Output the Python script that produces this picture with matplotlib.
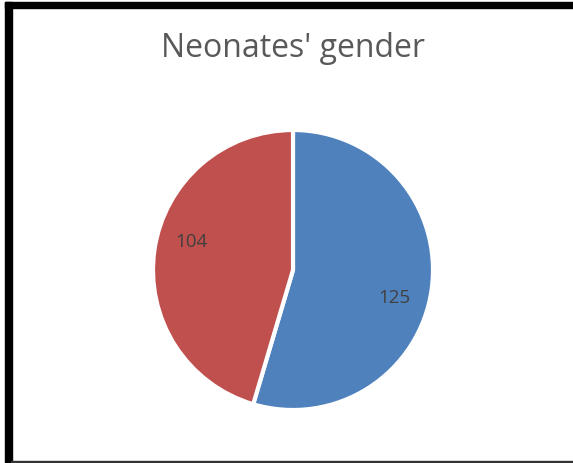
import numpy as np
import matplotlib.pyplot as plt
from matplotlib.patches import Rectangle

# Data
labels = ['Male', 'Female']
counts = [125, 104]
colors = ['#4F81BD', '#C0504D']

W, H = 573, 463
cx, cy, R = 293, H - 270, 140

fig = plt.figure(figsize=(W / 100, H / 100), dpi=100)
ax = fig.add_axes([0, 0, 1, 1])

# Pie (center / radius in pixel units)
wedges, _ = ax.pie(counts, colors=colors, startangle=90, counterclock=False,
                   center=(cx, cy), radius=R,
                   wedgeprops=dict(edgecolor='white', linewidth=3),
                   frame=True)

# Data labels, a little clockwise of the wedge middle like Excel places them
for w, c in zip(wedges, counts):
    ang = np.deg2rad((w.theta1 + w.theta2) / 2 - 7)
    ax.text(cx + 0.75 * R * np.cos(ang), cy + 0.75 * R * np.sin(ang), str(c),
            ha='center', va='center', fontsize=13.5, color='#404040',
            family='Open Sans')

ax.set_xlim(0, W)
ax.set_ylim(0, H)
ax.set_aspect('auto')
ax.axis('off')

# Title
ax.text(293, H - 57, "Neonates' gender", ha='center', va='baseline',
        fontsize=23, color='#595959', family='Open Sans')

# Chart border
ax.add_patch(Rectangle((5, 0), 7, H - 2, color='black', clip_on=False))
ax.add_patch(Rectangle((5, H - 8), W - 5, 6, color='black', clip_on=False))
ax.add_patch(Rectangle((11, 0.5), W - 11, 1.5, color='#333333', clip_on=False))

plt.savefig('out.png', dpi=100)
